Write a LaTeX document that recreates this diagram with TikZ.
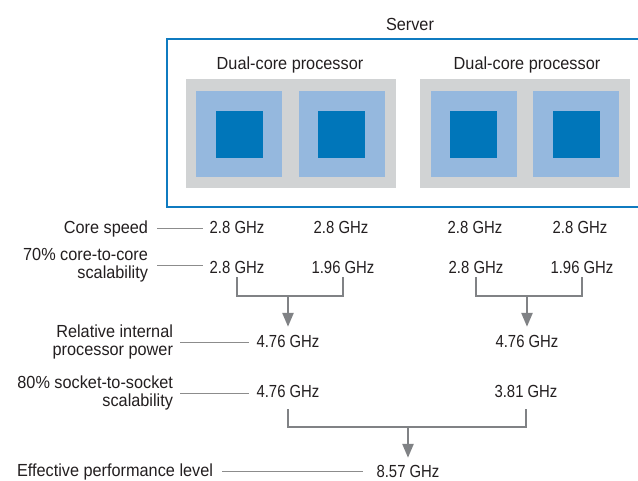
\documentclass[tikz,border=0pt]{standalone}
\usepackage{fontspec}
\setmainfont{Liberation Sans}[FakeStretch=0.93]
\newfontfamily\numfont{Liberation Sans}[FakeStretch=0.85]
\usetikzlibrary{arrows.meta,calc}
\definecolor{srvblue}{HTML}{0F7BC0}
\definecolor{procgray}{HTML}{D1D3D4}
\definecolor{lightblue}{HTML}{95B8DE}
\definecolor{coreblue}{HTML}{0076BA}
\definecolor{txt}{HTML}{231F20}
\definecolor{brkgray}{HTML}{808285}
\definecolor{linegray}{HTML}{8C8C8C}
\begin{document}
\begin{tikzpicture}[x=1pt,y=-1pt,
  every node/.style={inner sep=0pt, outer sep=0pt, text=txt, font=\fontsize{17.5}{18.5}\selectfont},
  val/.style={anchor=base, font=\fontsize{17.5}{18.5}\selectfont\numfont},
  lab/.style={align=right, anchor=east},
  conn/.style={draw=linegray, line width=0.8pt},
  brk/.style={draw=brkgray, line width=2.5pt},
  arr/.style={draw=brkgray, line width=2.5pt, -{Triangle[length=14pt,width=11pt]}},
  procbox/.style={fill=procgray, minimum width=210pt, minimum height=109pt},
  corebox/.style={fill=lightblue, minimum size=86pt},
  coreinner/.style={fill=coreblue, minimum size=47pt}]
\clip (0,0) rectangle (638,480);
\fill[white] (0,0) rectangle (638,480);
% server
\node (srvlab) [anchor=base] at (410,30) {Server};
\node (srv) [draw=srvblue, line width=2.7pt, minimum width=490pt, minimum height=168pt, anchor=north west] at (167,39) {};
% processors
\node (p1lab) [anchor=base] at (290,69) {Dual-core processor};
\node (p2lab) [anchor=base] at (527,69) {Dual-core processor};
\node (p1) [procbox] at (291,133.5) {};
\node (p2) [procbox] at (525,133.5) {};
\node (c1) [corebox] at (239,134) {};
\node (c2) [corebox] at (342,134) {};
\node (c3) [corebox] at (474,134) {};
\node (c4) [corebox] at (576,134) {};
\node (k1) [coreinner] at (239.5,134.5) {};
\node (k2) [coreinner] at (341.5,134.5) {};
\node (k3) [coreinner] at (473.5,134.5) {};
\node (k4) [coreinner] at (576.5,134.5) {};
% labels
\node (l1) [anchor=base east] at (148,233) {Core speed};
\node (l2) [lab] at (148,265) {70\% core-to-core\\scalability};
\node (l3) [lab] at (173,342) {Relative internal\\processor power};
\node (l4) [lab] at (173,393) {80\% socket-to-socket\\scalability};
\node (l5) [anchor=base east] at (213,476) {Effective performance level};
% values
\node (v11) [val] at (237,233) {2.8 GHz};
\node (v12) [val] at (341,233) {2.8 GHz};
\node (v13) [val] at (475,233) {2.8 GHz};
\node (v14) [val] at (580,233) {2.8 GHz};
\node (v21) [val] at (237,273) {2.8 GHz};
\node (v22) [val] at (343,273) {1.96 GHz};
\node (v23) [val] at (476,273) {2.8 GHz};
\node (v24) [val] at (582,273) {1.96 GHz};
\node (v31) [val] at (288,347) {4.76 GHz};
\node (v32) [val] at (527,347) {4.76 GHz};
\node (v41) [val] at (288,397) {4.76 GHz};
\node (v42) [val] at (526,397) {3.81 GHz};
\node (v5) [val] at (408,477) {8.57 GHz};
% connectors
\draw[conn] ([xshift=9pt]l1.east) -- ($(v11.west |- l1.east)+(-7,0)$);
\draw[conn] ([xshift=9pt]l2.east) -- ($(v21.west |- l2.east)+(-7,0)$);
\draw[conn] ([xshift=7pt]l3.east) -- ($(v31.west |- l3.east)+(-8,0)$);
\draw[conn] ([xshift=7pt]l4.east) -- ($(v41.west |- l4.east)+(-8,0)$);
\draw[conn] ([xshift=9pt]l5.east) -- ($(v5.west |- l5.east)+(-14,0)$);
% brackets
\draw[brk] (v21.south |- 0,277) -- (v21.south |- 0,296) -- (v22.south |- 0,296) -- (v22.south |- 0,277);
\draw[brk] (v23.south |- 0,277) -- (v23.south |- 0,296) -- (v24.south |- 0,296) -- (v24.south |- 0,277);
\draw[arr] (v31.north |- 0,296) -- ($(v31.north)+(0,-8)$);
\draw[arr] (v32.north |- 0,296) -- ($(v32.north)+(0,-8)$);
\draw[brk] (v41.south |- 0,409) -- (v41.south |- 0,427) -- (v42.south |- 0,427) -- (v42.south |- 0,409);
\draw[arr] (v5.north |- 0,427) -- ($(v5.north)+(0,-7)$);
\end{tikzpicture}
\end{document}
